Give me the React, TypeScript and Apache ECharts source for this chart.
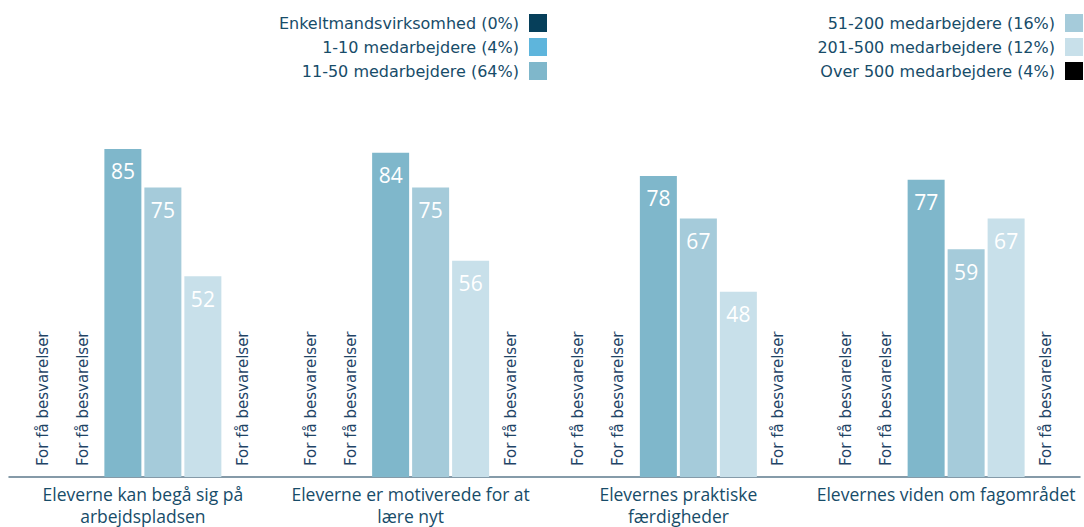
import React, { useEffect, useRef } from "react";
import * as echarts from "echarts";

const categories = [
  "Eleverne kan begå sig på\narbejdspladsen",
  "Eleverne er motiverede for at\nlære nyt",
  "Elevernes praktiske\nfærdigheder",
  "Elevernes viden om fagområdet",
];

const seriesNames = [
  "Enkeltmandsvirksomhed (0%)",
  "1-10 medarbejdere (4%)",
  "11-50 medarbejdere (64%)",
  "51-200 medarbejdere (16%)",
  "201-500 medarbejdere (12%)",
  "Over 500 medarbejdere (4%)",
];

const seriesColors = ["#063f5a", "#5eb5dc", "#7fb7cb", "#a5cbda", "#c8e0ea", "#000000"];

// null = too few answers to report
const enkeltmand: (number | null)[] = [null, null, null, null];
const size1to10: (number | null)[] = [null, null, null, null];
const size11to50: (number | null)[] = [85, 84, 78, 77];
const size51to200: (number | null)[] = [75, 75, 67, 59];
const size201to500: (number | null)[] = [52, 56, 48, 67];
const over500: (number | null)[] = [null, null, null, null];

const seriesValues = [enkeltmand, size1to10, size11to50, size51to200, size201to500, over500];

const tooFewText = "For få besvarelser";
const textColor = "#174c69";

export default function App() {
  const ref = useRef<HTMLDivElement>(null);

  useEffect(() => {
    if (!ref.current) return;
    const chart = echarts.init(ref.current, null, { renderer: "svg" });

    const series = seriesNames.map((name, i) => ({
      name,
      type: "bar",
      barWidth: 37,
      barGap: "8.1%",
      itemStyle: { color: seriesColors[i] },
      data: seriesValues[i].map((v) =>
        v === null
          ? {
              value: 0,
              label: {
                show: true,
                formatter: tooFewText,
                position: "insideBottom",
                distance: 11,
                rotate: 90,
                align: "left",
                verticalAlign: "middle",
                color: "#1f4466",
                fontFamily: "DejaVu Sans",
                fontSize: 15,
              },
            }
          : {
              value: v,
              label: {
                show: true,
                position: "insideTop",
                distance: 12,
                color: "#ffffff",
                fontFamily: "Open Sans",
                fontSize: 21,
              },
            }
      ),
    }));

    const legendCommon = {
      orient: "vertical",
      align: "right",
      padding: 0,
      itemWidth: 18,
      itemHeight: 18,
      itemGap: 6,
      icon: "rect",
      selectedMode: false,
      textStyle: {
        color: textColor,
        fontFamily: "DejaVu Sans",
        fontSize: 16,
        padding: [0, 5, 0, 0],
      },
    };

    chart.setOption({
      animation: false,
      legend: [
        { ...legendCommon, data: seriesNames.slice(0, 3), right: 537, top: 14 },
        { ...legendCommon, data: seriesNames.slice(3), right: 1, top: 14 },
      ],
      grid: { left: 9, right: 4, top: 91, bottom: 50 },
      xAxis: {
        type: "category",
        data: categories,
        axisTick: { show: false },
        axisLine: { lineStyle: { color: "#5d7a8c", width: 1.5 } },
        axisLabel: {
          color: textColor,
          fontFamily: "Open Sans",
          fontSize: 17.5,
          lineHeight: 22,
          margin: 6,
          interval: 0,
        },
      },
      yAxis: {
        type: "value",
        min: 0,
        max: 100,
        show: false,
        splitLine: { show: false },
      },
      series,
    });

    return () => chart.dispose();
  }, []);

  return (
    <div
      ref={ref}
      style={{ position: "fixed", left: 0, top: 0, width: 1084, height: 527, background: "#fff" }}
    />
  );
}
